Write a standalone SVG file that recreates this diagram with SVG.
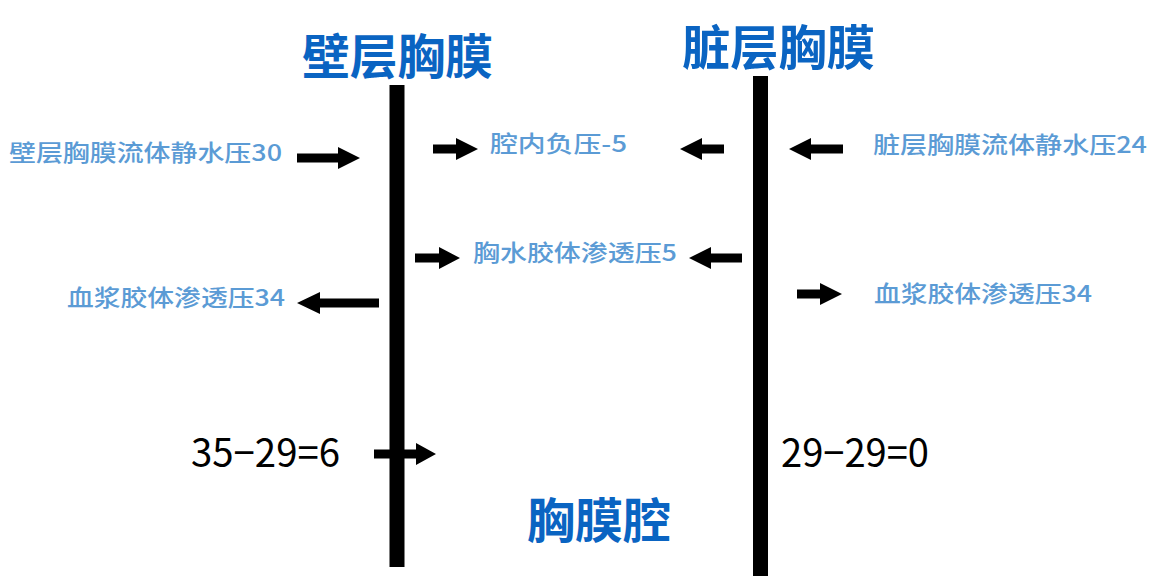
<svg xmlns="http://www.w3.org/2000/svg" width="1155" height="583" viewBox="0 0 1155 583">
<style>
.title{font-family:"Noto Sans CJK SC","Noto Sans",sans-serif;font-weight:bold;font-size:48px;fill:#0A64C2}
.lbl{font-family:"Noto Sans CJK SC","Noto Sans",sans-serif;font-weight:500;font-size:23px;fill:#5B9BD5}
.eq{font-family:"Noto Sans CJK SC","Noto Sans",sans-serif;font-size:39px;fill:#000}
.arr{fill:#000}
.bar{fill:#000}
</style>
<rect width="1155" height="583" fill="#fff"/>
<g id="connectors">
<polygon class="arr" points="297,153.5 338,153.5 338,147 360,158 338,169 338,162.5 297,162.5"/>
<polygon class="arr" points="433,144.5 456,144.5 456,138 478,149 456,160 456,153.5 433,153.5"/>
<polygon class="arr" points="724,144.5 702,144.5 702,138 680,149 702,160 702,153.5 724,153.5"/>
<polygon class="arr" points="843,144.5 811,144.5 811,138 789,149 811,160 811,153.5 843,153.5"/>
<polygon class="arr" points="415,253.5 439,253.5 439,247 460,258 439,269 439,262.5 415,262.5"/>
<polygon class="arr" points="742,253.5 711,253.5 711,247 689,258 711,269 711,262.5 742,262.5"/>
<polygon class="arr" points="379,298.5 320,298.5 320,292 297,303 320,314 320,307.5 379,307.5"/>
<polygon class="arr" points="797,289.5 820,289.5 820,283 842,294 820,305 820,298.5 797,298.5"/>
<polygon class="arr" points="374,449.5 416,449.5 416,443 436,454 416,465 416,458.5 374,458.5"/>
</g>
<g id="parietal-pleura">
<rect class="bar" x="389.5" y="85" width="15" height="482"/>
<text class="title" x="302" y="74" textLength="191" lengthAdjust="spacingAndGlyphs">壁层胸膜</text>
</g>
<g id="visceral-pleura">
<rect class="bar" x="753" y="76" width="15" height="500"/>
<text class="title" x="682" y="65" textLength="193" lengthAdjust="spacingAndGlyphs">脏层胸膜</text>
</g>
<g id="pleural-cavity">
<text class="title" x="527" y="538" textLength="144" lengthAdjust="spacingAndGlyphs">胸膜腔</text>
</g>
<g id="label-parietal-hydrostatic">
<text class="lbl" x="9" y="161" textLength="273" lengthAdjust="spacingAndGlyphs">壁层胸膜流体静水压30</text>
</g>
<g id="label-negative-pressure">
<text class="lbl" x="490" y="152" textLength="137" lengthAdjust="spacingAndGlyphs">腔内负压-5</text>
</g>
<g id="label-visceral-hydrostatic">
<text class="lbl" x="873" y="153" textLength="274" lengthAdjust="spacingAndGlyphs">脏层胸膜流体静水压24</text>
</g>
<g id="label-effusion-oncotic">
<text class="lbl" x="473" y="261" textLength="204" lengthAdjust="spacingAndGlyphs">胸水胶体渗透压5</text>
</g>
<g id="label-plasma-oncotic-left">
<text class="lbl" x="67" y="306" textLength="218" lengthAdjust="spacingAndGlyphs">血浆胶体渗透压34</text>
</g>
<g id="label-plasma-oncotic-right">
<text class="lbl" x="874" y="302" textLength="218" lengthAdjust="spacingAndGlyphs">血浆胶体渗透压34</text>
</g>
<g id="eq-left">
<text class="eq" x="191" y="467" textLength="149" lengthAdjust="spacingAndGlyphs">35−29=6</text>
</g>
<g id="eq-right">
<text class="eq" x="781" y="467" textLength="148" lengthAdjust="spacingAndGlyphs">29−29=0</text>
</g>
</svg>
